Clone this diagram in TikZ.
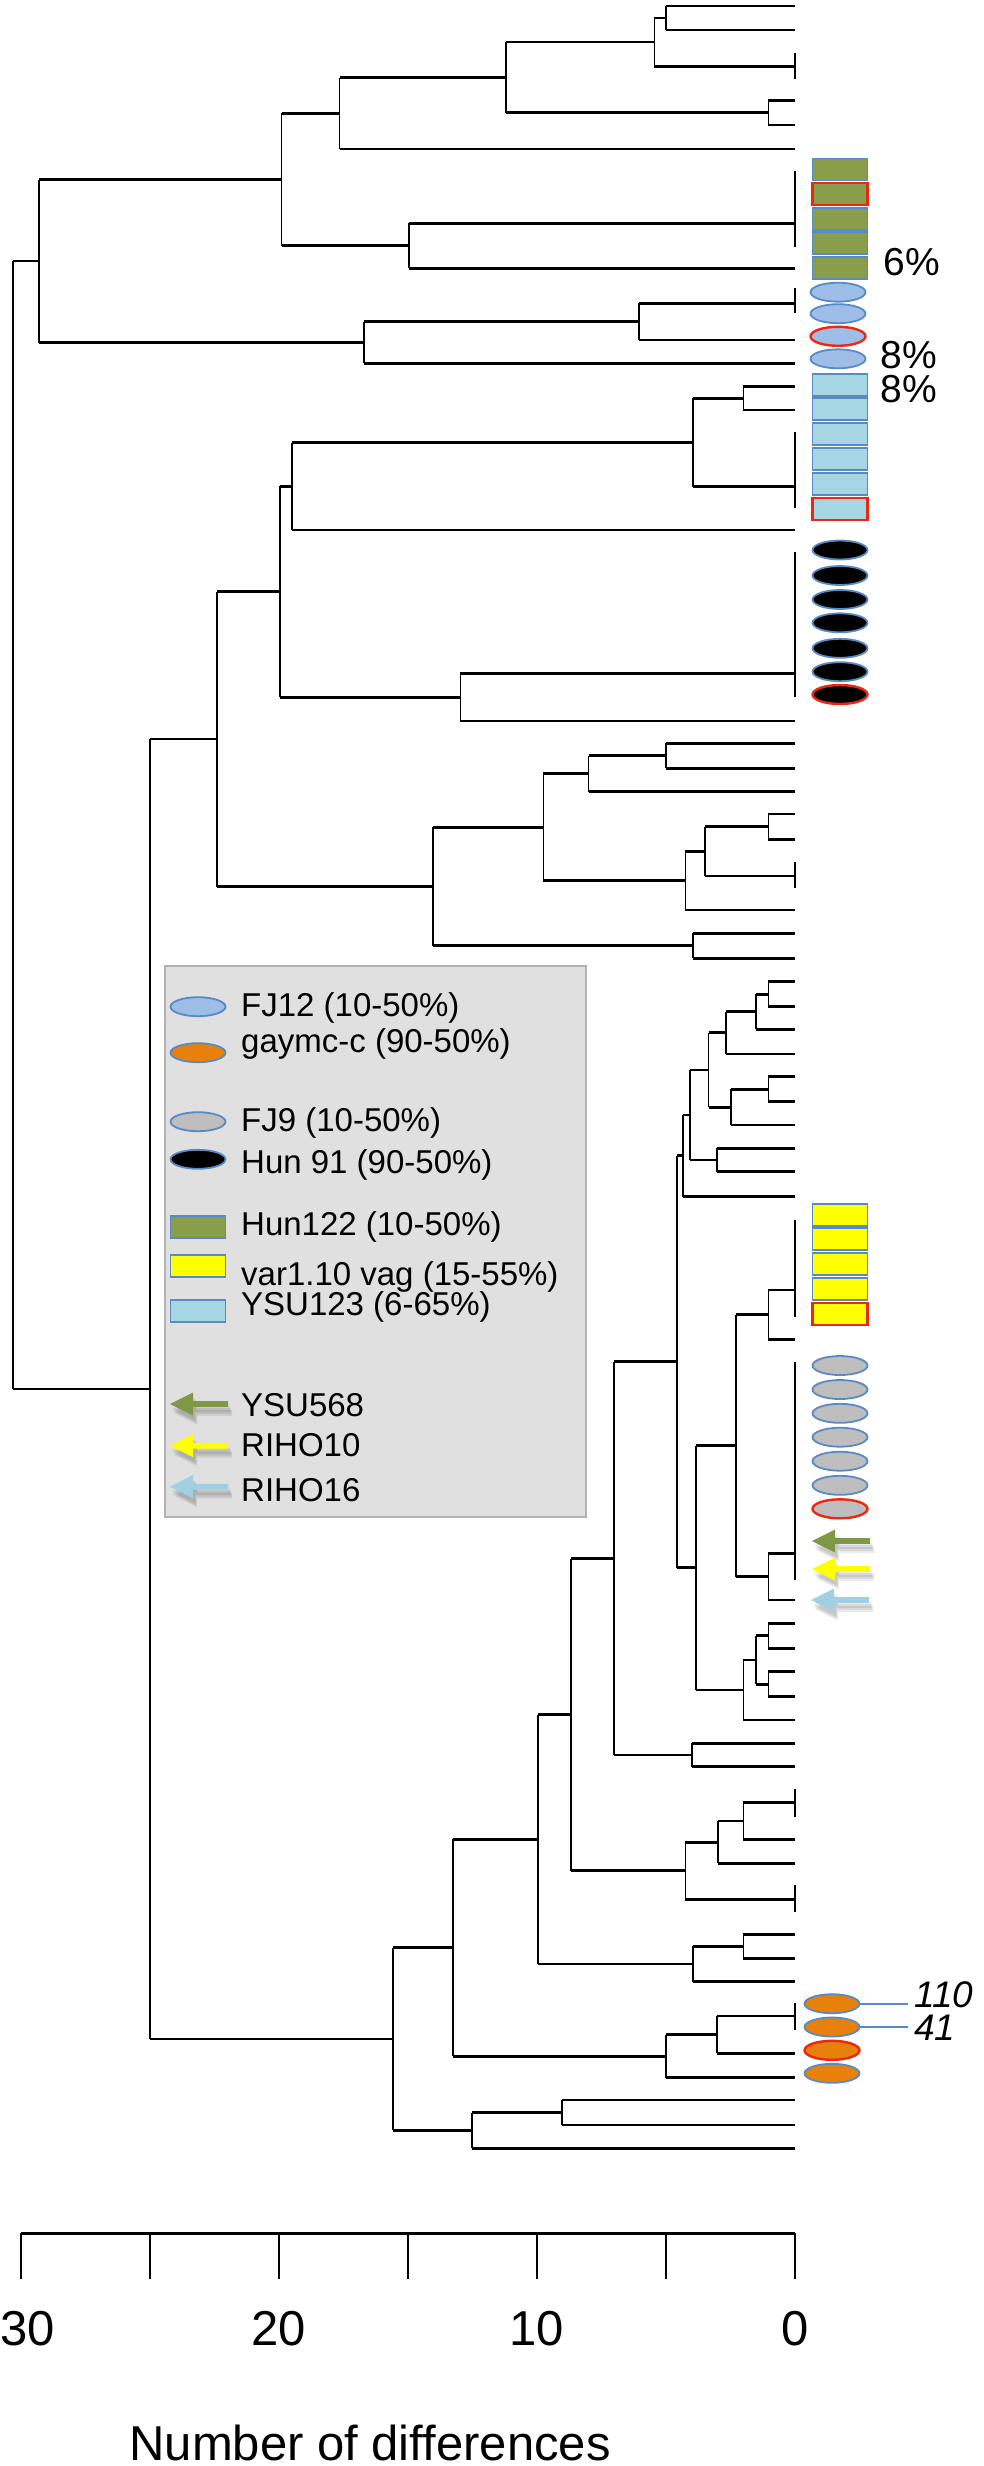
\documentclass[tikz,border=0pt]{standalone}
\usepackage{fontspec}
\setmainfont{Liberation Sans}
\usetikzlibrary{shapes.geometric}
\definecolor{hungreen}{RGB}{137,157,74}
\definecolor{fjblue}{RGB}{158,190,232}
\definecolor{ysublue}{RGB}{166,214,228}
\definecolor{gayorange}{RGB}{232,128,12}
\definecolor{fjgray}{RGB}{190,190,190}
\definecolor{varyellow}{RGB}{255,255,0}
\definecolor{edgeblue}{RGB}{88,138,196}
\definecolor{edgered}{RGB}{236,40,18}
\definecolor{legendgray}{RGB}{224,224,224}
\definecolor{legendedge}{RGB}{178,178,178}
\definecolor{arrgreen}{RGB}{128,152,70}
\definecolor{arrblue}{RGB}{160,208,226}
\tikzset{
  pics/leftarr/.style={code={
    % weicher Schatten
    \foreach \s in {(2,5),(3,7),(4,9)}
      \fill[black,opacity=0.08,shift={\s}] (-28,0) -- (-5,-11.5) -- (-5,-2.8) -- (30,-2.8) -- (30,2.8) -- (-5,2.8) -- (-5,11.5) -- cycle;
    \fill[#1] (-28,0) -- (-5,-11.5) -- (-5,-2.8) -- (30,-2.8) -- (30,2.8) -- (-5,2.8) -- (-5,11.5) -- cycle;
  }}
}
\begin{document}
\begin{tikzpicture}[x=1pt,y=-1pt,
  hbr/.style={line width=2.9pt},
  vbr/.style={line width=1.7pt},
  ellmark/.style={ellipse,minimum width=55pt,minimum height=19pt,inner sep=0pt,line width=1.8pt,draw=edgeblue},
  boxmark/.style={rectangle,minimum width=55pt,minimum height=22pt,inner sep=0pt,line width=1.8pt,draw=edgeblue},
  redrim/.style={draw=edgered,line width=2.4pt},
  legtext/.style={anchor=base west,inner sep=0pt,font=\fontsize{33}{36}\selectfont},
  pct/.style={inner sep=0pt,font=\fontsize{39}{42}\selectfont},
  numlab/.style={anchor=west,inner xsep=6pt,inner ysep=0pt,font=\fontsize{37}{40}\selectfont\itshape}]
  \useasboundingbox (0,0) rectangle (984,2466);
  % Baum, x in Anzahl Unterschiede
  \begin{scope}[shift={(795,0)},x=-25.8pt]
    \coordinate (a1) at (5.0,18);
    \coordinate (a2) at (5.45,42);
    \coordinate (a3) at (1.03,112.8);
    \coordinate (a4) at (11.2,77.5);
    \coordinate (a5) at (17.65,113.3);
    \coordinate (a6) at (14.96,245.8);
    \coordinate (a7) at (19.9,179.6);
    \coordinate (a8) at (6.04,321.7);
    \coordinate (a9) at (16.7,342.5);
    \coordinate (a10) at (29.3,261);
    \coordinate (root) at (30.3,825);
    \coordinate (b0) at (25.0,1389);
    \coordinate (c0) at (22.4,739);
    \coordinate (c1) at (2.0,398.3);
    \coordinate (c2) at (3.96,442.5);
    \coordinate (c3) at (19.49,486.3);
    \coordinate (c4) at (12.97,697.2);
    \coordinate (c5) at (19.97,591.7);
    \coordinate (c6) at (5.0,755.8);
    \coordinate (c7) at (8.0,773.7);
    \coordinate (c8) at (1.03,826.7);
    \coordinate (c9) at (3.5,851.3);
    \coordinate (c10) at (4.25,880.7);
    \coordinate (c11) at (9.75,827.2);
    \coordinate (c12) at (3.96,945.8);
    \coordinate (c13) at (14.03,886.5);
    \coordinate (e0) at (15.57,2039);
    \coordinate (e1) at (13.25,1947.8);
    \coordinate (e2) at (9.95,1839.3);
    \coordinate (e3) at (3.96,1964);
    \coordinate (e4) at (2.0,1946.3);
    \coordinate (e6) at (5.0,2056.2);
    \coordinate (e7) at (3.03,2034.7);
    \coordinate (e9) at (12.52,2130.4);
    \coordinate (e10) at (9.02,2112.5);
    \coordinate (f0) at (8.68,1714.6);
    \coordinate (f1) at (7.02,1558.5);
    \coordinate (f2) at (4.0,1755);
    \coordinate (f10) at (4.25,1870.8);
    \coordinate (f11) at (2.98,1842.2);
    \coordinate (f12) at (2.0,1821);
    \coordinate (g0) at (4.57,1361.9);
    \coordinate (g1) at (3.84,1567.9);
    \coordinate (g2) at (2.3,1445.7);
    \coordinate (g3) at (1.03,1314.7);
    \coordinate (g4) at (1.03,1576.7);
    \coordinate (g5) at (2.0,1690);
    \coordinate (g6) at (1.5,1660);
    \coordinate (g7) at (1.03,1635.8);
    \coordinate (g8) at (1.03,1684.2);
    \coordinate (h0) at (4.33,1155.9);
    \coordinate (h1) at (4.08,1115);
    \coordinate (h2) at (3.35,1070);
    \coordinate (h3) at (2.67,1032.9);
    \coordinate (h4) at (1.52,1011.8);
    \coordinate (h5) at (2.49,1107.1);
    \coordinate (h6) at (3.03,1160);
    \coordinate (h8) at (1.03,1089.2);
    \coordinate (h9) at (1.03,994.2);
    % Aeste zwischen Knoten
    \foreach \p/\c in {a2/a1,a4/a2,a4/a3,a5/a4,a7/a5,a7/a6,a9/a8,a10/a7,a10/a9,root/a10,root/b0,
      b0/c0,b0/e0,c2/c1,c3/c2,c5/c3,c5/c4,c7/c6,c9/c8,c10/c9,c11/c7,c11/c10,c13/c11,c13/c12,c0/c5,c0/c13,
      e0/e1,e0/e9,e9/e10,e1/e2,e1/e6,e6/e7,e2/f0,e2/e3,e3/e4,f0/f1,f0/f10,f10/f11,f11/f12,f1/g0,f1/f2,
      g0/h0,g0/g1,g1/g2,g1/g5,g2/g3,g2/g4,g5/g6,g6/g7,g6/g8,h0/h1,h1/h2,h1/h6,h2/h3,h2/h5,h3/h4,h4/h9,h5/h8} {
      \draw[vbr] (\p) -- (\p |- \c);
      \draw[hbr] (\p |- \c) -- (\c);
    }
    % Aeste zu den Blaettern
    \foreach \p/\y in {a1/6,a1/30,a2/66.7,a3/100.7,a3/125,a5/149,a6/223.3,a6/268.3,a8/303.3,a8/340,a9/363.3,
      c1/386.7,c1/410,c2/486.7,c3/530,c4/673.3,c4/721,c6/743.3,c6/768.3,c7/791.7,c8/814,c8/839.3,c9/876,c10/910,
      c12/933.3,c12/958.3,h9/981.7,h9/1006.7,h4/1029.3,h3/1054,h8/1076.7,h8/1101.7,h5/1125,h6/1148.3,h6/1171.7,
      h0/1196.7,g3/1290,g3/1339.3,g4/1553.3,g4/1600,g7/1623.3,g7/1648.3,g8/1671.7,g8/1696.7,g5/1720,f2/1743.3,
      f2/1766.7,f12/1802.7,f12/1839.3,f11/1863.3,f10/1899.3,e4/1934.3,e4/1958.3,e3/1981.7,e7/2016,e7/2053.3,
      e6/2077.7,e10/2100,e10/2125,e9/2148.3} {
      \draw[vbr] (\p) -- (\p |- 0,\y);
      \draw[hbr] (\p |- 0,\y) -- (0,\y);
    }
    % identische Gruppen
    \foreach \ya/\yb in {52.7/79.3,170.7/246.7,288/313,431.7/508.3,551.7/696.7,861.7/888.3,
      1220/1316.7,1361.7/1580,1789.3/1816.7,1885/1911.7,2003/2030}
      \draw[vbr] (0,\ya) -- (0,\yb);
    % Achse
    \draw[line width=3pt] (30,2233) -- (0,2233);
    \foreach \t in {0,5,...,30}
      \draw[line width=1.6pt] (\t,2233) -- (\t,2279);
    \foreach \t/\dx in {0/0,10/0,20/0,30/7}
      \node[anchor=base,inner sep=0pt,xshift=\dx pt,font=\fontsize{49}{52}\selectfont] (ax\t) at (\t,2345) {\t};
  \end{scope}
  \node[anchor=base,inner sep=0pt,font=\fontsize{49}{52}\selectfont] (xtitle) at (370,2460) {Number of differences};
  % Markierungen
  \foreach \y/\r [count=\i] in {169.5/,193.8/redrim,218.7/,242.8/,268/}
    \node[boxmark,fill=hungreen,\r] (hun\i) at (840,\y) {};
  \foreach \y/\r [count=\i] in {292.2/,313.7/,336.3/redrim,358.8/}
    \node[ellmark,fill=fjblue,\r] (fjb\i) at (838,\y) {};
  \foreach \y/\r [count=\i] in {385.3/,409.2/,434.2/,459.2/,483.8/,508.7/redrim}
    \node[boxmark,fill=ysublue,\r] (ysu\i) at (840,\y) {};
  \foreach \y/\r [count=\i] in {550/,575.5/,599.5/,622.8/,648.3/,671.7/,694.5/redrim}
    \node[ellmark,fill=black,\r] (hun91\i) at (840,\y) {};
  \foreach \y/\r [count=\i] in {1214.7/,1239.2/,1264.2/,1288.8/,1313.8/redrim}
    \node[boxmark,fill=varyellow,\r] (var\i) at (840,\y) {};
  \foreach \y/\r [count=\i] in {1365.5/,1389.5/,1413.3/,1437.2/,1461.2/,1485.3/,1508.8/redrim}
    \node[ellmark,fill=fjgray,\r] (fjg\i) at (840,\y) {};
  \pic at (840,1541) {leftarr=arrgreen};
  \pic at (840,1569) {leftarr=varyellow};
  \pic at (839,1600) {leftarr=arrblue};
  \foreach \y/\r [count=\i] in {2003.7/,2027/,2050.3/redrim,2073.3/}
    \node[ellmark,fill=gayorange,\r] (gay\i) at (832,\y) {};
  \node[pct] (p6) at (912,262) {6\%};
  \node[pct] (p8a) at (909,355) {8\%};
  \node[pct] (p8b) at (909,389) {8\%};
  \node[numlab] (n110) at (908,1995) {110};
  \node[numlab] (n41) at (908,2028) {41};
  \draw[edgeblue,line width=1.8pt] (gay1.east) -- (gay1.east -| n110.west);
  \draw[edgeblue,line width=1.8pt] (gay2.east) -- (gay2.east -| n41.west);
  % Legende
  \node[draw=legendedge,fill=legendgray,line width=2pt,minimum width=421pt,minimum height=551pt,inner sep=0pt] (legend) at (375,1241) {};
  \node[ellmark,fill=fjblue] (kfj12) at (198,1006.7) {};
  \node[legtext] (tfj12) at (241,1016) {FJ12 (10-50\%)};
  \node[ellmark,fill=gayorange] (kgay) at (198,1052.7) {};
  \node[legtext] (tgay) at (241,1052.7) {gaymc-c (90-50\%)};
  \node[ellmark,fill=fjgray] (kfj9) at (198,1121.7) {};
  \node[legtext] (tfj9) at (241,1131.7) {FJ9 (10-50\%)};
  \node[ellmark,fill=black] (khun91) at (198,1159.3) {};
  \node[legtext] (thun91) at (241,1173.3) {Hun 91 (90-50\%)};
  \node[boxmark,fill=hungreen] (khun122) at (198,1226.7) {};
  \node[legtext] (thun122) at (241,1235) {Hun122 (10-50\%)};
  \node[boxmark,fill=varyellow] (kvar) at (198,1266.3) {};
  \node[legtext] (tvar) at (241,1285) {var1.10 vag (15-55\%)};
  \node[boxmark,fill=ysublue] (kysu) at (198,1311) {};
  \node[legtext] (tysu) at (241,1315) {YSU123 (6-65\%)};
  \pic at (198,1404) {leftarr=arrgreen};
  \node[legtext] (tysu568) at (241,1416.7) {YSU568};
  \pic at (198,1445.7) {leftarr=varyellow};
  \node[legtext] (trih10) at (241,1456.7) {RIHO10};
  \pic at (198,1486.7) {leftarr=arrblue};
  \node[legtext] (trih16) at (241,1501.7) {RIHO16};
\end{tikzpicture}
\end{document}
